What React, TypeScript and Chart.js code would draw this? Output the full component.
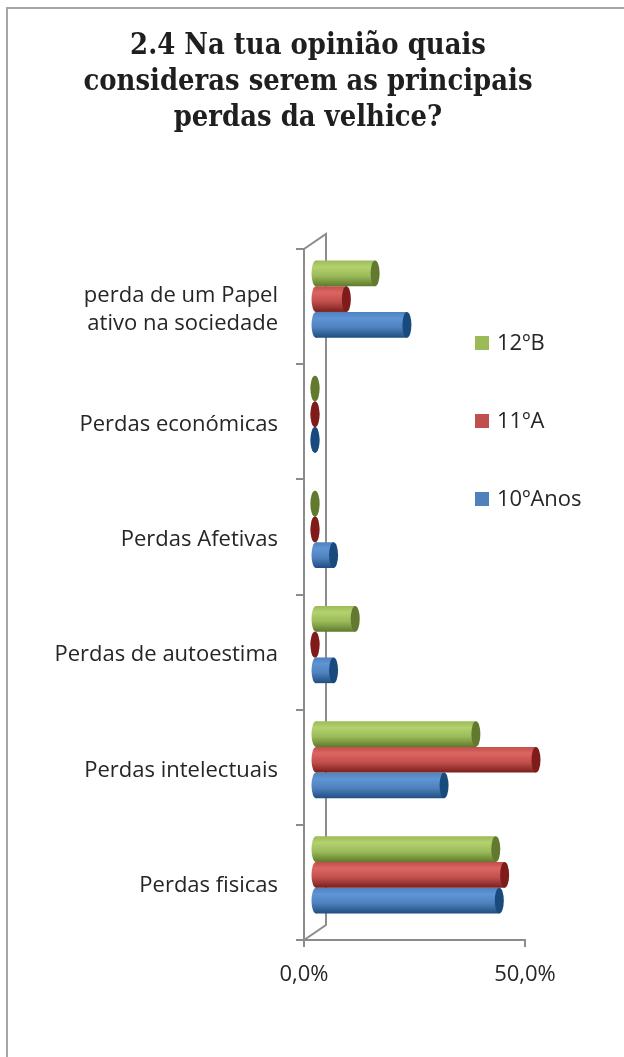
import React, { useEffect, useRef } from "react";
import { Chart, registerables } from "chart.js";

Chart.register(...registerables);

// ---- data ----
const categories: (string | string[])[] = [
  ["perda de um Papel", "ativo na sociedade"],
  "Perdas económicas",
  "Perdas Afetivas",
  "Perdas de autoestima",
  "Perdas intelectuais",
  "Perdas fisicas",
];
const seriesNames = ["12ºB", "11ºA", "10ºAnos"];
const values12B = [13.6, 0, 0, 9.1, 36.4, 40.9];
const values11A = [7.1, 0, 0, 0, 50.0, 42.9];
const values10Anos = [20.8, 0, 4.2, 4.2, 29.2, 41.7];
const xTickValues = [0, 50];
const xTickLabels = ["0,0%", "50,0%"];
const titleLines = [
  "2.4 Na tua opinião quais",
  "consideras serem as principais",
  "perdas da velhice?",
];

// ---- styles ----
const CAT_PCT = 0.67;
const DEPTH_X = 22;
const DEPTH_Y = 15;
const AXIS_COLOR = "#8c8c8c";
const TEXT_COLOR = "#262626";
const LABEL_FONT = "Open Sans";

type Palette = { base: string; light: string; dark: string; cap: string };
const palettes: Palette[] = [
  { base: "#9BBB59", light: "#B3D26E", dark: "#5F7A2C", cap: "#62792F" },
  { base: "#C0504D", light: "#DC6561", dark: "#7A1E1C", cap: "#7E1C1A" },
  { base: "#4F81BD", light: "#5F95D5", dark: "#1F4E80", cap: "#184A7E" },
];

function makeGradient(ctx: CanvasRenderingContext2D, top: number, h: number, p: Palette) {
  const g = ctx.createLinearGradient(0, top, 0, top + h);
  g.addColorStop(0, p.base);
  g.addColorStop(0.25, p.light);
  g.addColorStop(0.6, p.base);
  g.addColorStop(1, p.dark);
  return g;
}

function scriptableGradient(p: Palette) {
  return (c: any) => {
    const chart = c.chart;
    const ys = chart.scales && chart.scales.y;
    if (c.type !== "data" || !ys || !chart.chartArea) return p.base;
    const band = ys.getPixelForValue(1) - ys.getPixelForValue(0);
    const barH = (band * CAT_PCT) / 3;
    const center = ys.getPixelForValue(c.dataIndex);
    const top = center - (band * CAT_PCT) / 2 + c.datasetIndex * barH;
    return makeGradient(chart.ctx, top, barH, p);
  };
}

const cylinderPlugin = {
  id: "cylinder3d",
  beforeDraw(chart: any) {
    const ctx = chart.ctx as CanvasRenderingContext2D;
    ctx.save();
    ctx.fillStyle = "#ffffff";
    ctx.fillRect(0, 0, chart.width, chart.height);
    ctx.strokeStyle = "#a6a6a6";
    ctx.lineWidth = 2;
    ctx.strokeRect(7, 8, chart.width + 20, chart.height + 20);
    // title
    ctx.font = 'bold 29px "DejaVu Serif"';
    ctx.fillStyle = "#1f1f1f";
    ctx.textBaseline = "middle";
    ctx.textAlign = "center";
    const widest = Math.max(...titleLines.map((t) => ctx.measureText(t).width));
    const sx = 449 / widest;
    const titleCenters = [46, 82, 118];
    titleLines.forEach((t, i) => {
      ctx.save();
      ctx.translate(308, titleCenters[i]);
      ctx.scale(sx, 1);
      ctx.fillText(t, 0, 0);
      ctx.restore();
    });
    ctx.restore();
  },
  beforeDatasetsDraw(chart: any) {
    const ctx = chart.ctx as CanvasRenderingContext2D;
    const ca = chart.chartArea;
    ctx.save();
    ctx.strokeStyle = AXIS_COLOR;
    ctx.lineWidth = 2;
    ctx.beginPath();
    ctx.moveTo(ca.left, ca.top);
    ctx.lineTo(ca.left + DEPTH_X, ca.top - DEPTH_Y);
    ctx.lineTo(ca.left + DEPTH_X, ca.bottom - DEPTH_Y);
    ctx.lineTo(ca.left, ca.bottom);
    ctx.stroke();
    ctx.restore();
    ctx.save();
    ctx.translate(DEPTH_X / 2, -DEPTH_Y / 2);
  },
  afterDatasetsDraw(chart: any) {
    const ctx = chart.ctx as CanvasRenderingContext2D;
    const rx = 4.5;
    chart.data.datasets.forEach((_ds: any, di: number) => {
      const meta = chart.getDatasetMeta(di);
      const p = palettes[di];
      meta.data.forEach((el: any) => {
        const h = el.height;
        const top = el.y - h / 2;
        ctx.beginPath();
        ctx.ellipse(el.base, el.y, rx, h / 2, 0, 0, Math.PI * 2);
        ctx.fillStyle = makeGradient(ctx, top, h, p);
        ctx.fill();
        ctx.beginPath();
        ctx.ellipse(el.x, el.y, rx, h / 2, 0, 0, Math.PI * 2);
        ctx.fillStyle = p.cap;
        ctx.fill();
      });
    });
    ctx.restore();
  },
  afterDraw(chart: any) {
    const ctx = chart.ctx as CanvasRenderingContext2D;
    const centers = [343, 421, 499];
    ctx.save();
    ctx.font = `22px "${LABEL_FONT}"`;
    ctx.textBaseline = "middle";
    ctx.textAlign = "left";
    seriesNames.forEach((name, i) => {
      ctx.fillStyle = palettes[i].base;
      ctx.fillRect(475, centers[i] - 7, 14, 14);
      ctx.fillStyle = TEXT_COLOR;
      ctx.fillText(name, 497, centers[i] + 1);
    });
    ctx.restore();
  },
};

export default function App() {
  const ref = useRef<HTMLCanvasElement>(null);
  useEffect(() => {
    const datasets = [values12B, values11A, values10Anos].map((vals, i) => ({
      label: seriesNames[i],
      data: vals,
      backgroundColor: scriptableGradient(palettes[i]),
      borderWidth: 0,
      categoryPercentage: CAT_PCT,
      barPercentage: 1,
      clip: false as any,
    }));
    const chart = new Chart(ref.current as HTMLCanvasElement, {
      type: "bar",
      data: { labels: categories as any, datasets },
      options: {
        indexAxis: "y",
        animation: false,
        responsive: false,
        devicePixelRatio: 1,
        layout: { padding: { left: 0, right: 99, top: 249, bottom: 0 } },
        plugins: {
          legend: { display: false },
          tooltip: { enabled: false },
          title: { display: false },
        },
        scales: {
          y: {
            type: "category",
            offset: true,
            grid: {
              display: true,
              drawOnChartArea: false,
              offset: true,
              tickLength: 8,
              color: AXIS_COLOR,
              lineWidth: 2,
            },
            border: { display: true, color: AXIS_COLOR, width: 2 },
            ticks: {
              color: TEXT_COLOR,
              padding: 18,
              labelOffset: 3,
              font: { family: LABEL_FONT, size: 22, lineHeight: 1.25 },
            },
            afterFit: (s: any) => {
              s.width = 304;
            },
          },
          x: {
            type: "linear",
            min: 0,
            max: 50,
            grid: {
              display: true,
              drawOnChartArea: false,
              tickLength: 7,
              color: AXIS_COLOR,
              lineWidth: 2,
            },
            border: { display: true, color: AXIS_COLOR, width: 2 },
            afterBuildTicks: (s: any) => {
              s.ticks = xTickValues.map((v) => ({ value: v }));
            },
            ticks: {
              color: TEXT_COLOR,
              padding: 15,
              maxRotation: 0,
              font: { family: LABEL_FONT, size: 22 },
              callback: (_v: any, idx: number) => xTickLabels[idx],
            },
            afterFit: (s: any) => {
              s.height = 117;
            },
          },
        },
      },
      plugins: [cylinderPlugin],
    });
    return () => chart.destroy();
  }, []);
  return (
    <div style={{ position: "absolute", left: 0, top: 0, width: 624, height: 1057, background: "#fff" }}>
      <canvas ref={ref} width={624} height={1057} style={{ display: "block", width: 624, height: 1057 }} />
    </div>
  );
}
